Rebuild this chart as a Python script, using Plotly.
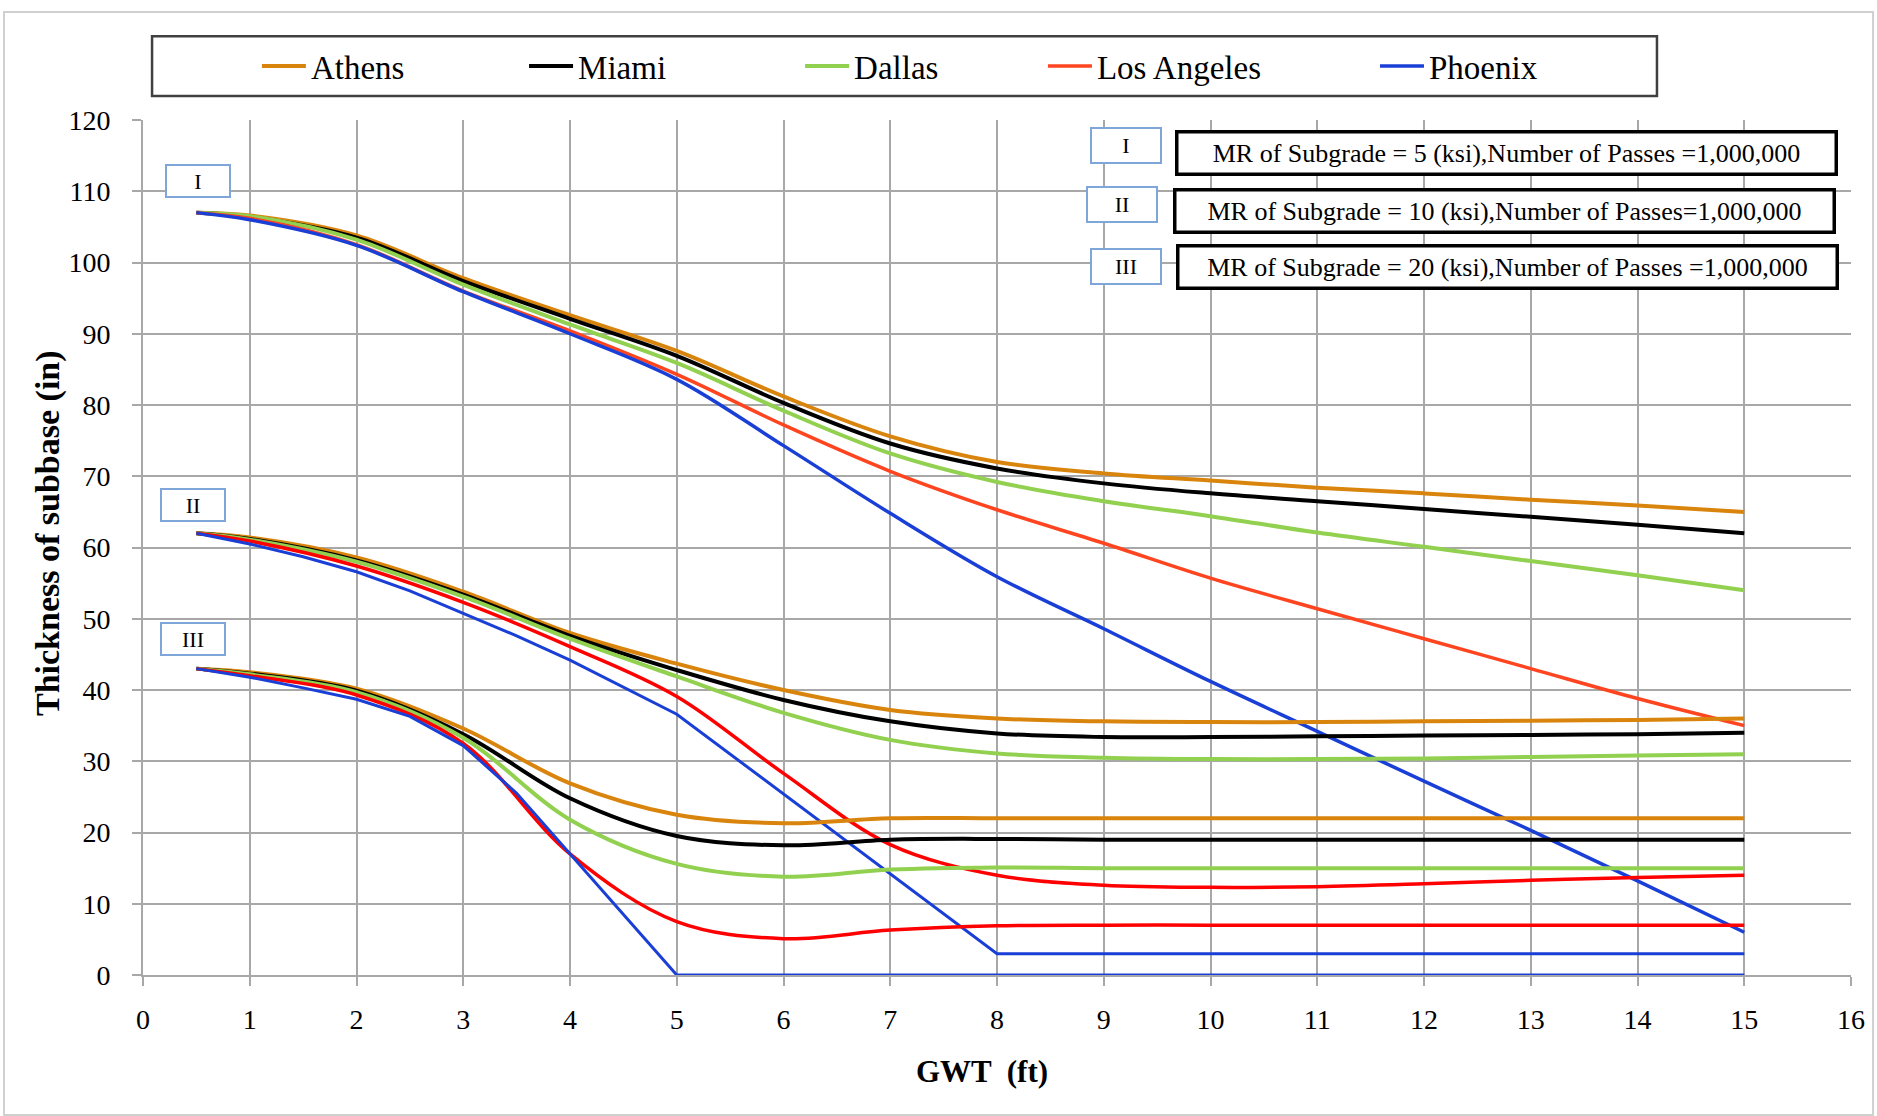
import plotly.graph_objects as go

# ---------------- data ----------------
cities = ["Athens", "Miami", "Dallas", "Los Angeles", "Phoenix"]

gwt = [0.5, 1, 2, 3, 4, 5, 6, 7, 8, 9, 10, 11, 12, 13, 14, 15]

# Group I : MR = 5 ksi
athens_I = [107, 106.6, 103.8, 97.8, 92.6, 87.6, 81.2, 75.6, 72.0, 70.4, 69.4, 68.4, 67.6, 66.7, 65.9, 65.0]
miami_I = [107, 106.4, 103.5, 97.4, 92.1, 86.9, 80.3, 74.6, 71.1, 69.0, 67.6, 66.5, 65.4, 64.3, 63.2, 62.0]
dallas_I = [107, 106.5, 103.2, 96.9, 91.3, 85.9, 79.2, 73.2, 69.2, 66.5, 64.4, 62.1, 60.1, 58.1, 56.1, 54.0]
la_I = [107, 106.2, 102.5, 96.0, 90.4, 84.3, 77.2, 70.7, 65.3, 60.6, 55.7, 51.4, 47.2, 43.0, 38.8, 35.0]
phoenix_I = [107, 106.0, 102.4, 95.9, 90.0, 83.6, 74.3, 64.8, 55.9, 48.6, 41.2, 34.2, 27.2, 20.3, 13.2, 6.0]

# Group II : MR = 10 ksi
athens_II = [62, 61.4, 58.6, 53.8, 48.0, 43.7, 40.0, 37.2, 36.0, 35.6, 35.5, 35.5, 35.6, 35.7, 35.8, 36.0]
miami_II = [62, 61.2, 58.2, 53.4, 47.6, 42.8, 38.6, 35.6, 33.9, 33.4, 33.4, 33.5, 33.6, 33.7, 33.8, 34.0]
dallas_II = [62, 61.1, 58.0, 53.1, 47.2, 41.9, 36.8, 33.0, 31.1, 30.5, 30.3, 30.3, 30.4, 30.6, 30.8, 31.0]
la_II = [62, 60.9, 57.4, 52.3, 46.1, 39.1, 28.3, 18.3, 14.0, 12.6, 12.3, 12.4, 12.8, 13.3, 13.7, 14.0]
phoenix_II_x = [0.5, 1, 1.5, 2, 2.5, 3, 3.5, 4, 5, 8, 15]
phoenix_II = [62, 60.5, 58.7, 56.6, 53.9, 50.8, 47.6, 44.2, 36.6, 3, 3]

# Group III : MR = 20 ksi
athens_III = [43, 42.5, 40.2, 34.6, 26.9, 22.5, 21.3, 22.0, 22, 22, 22, 22, 22, 22, 22, 22]
miami_III = [43, 42.3, 39.9, 33.8, 24.8, 19.5, 18.2, 19.0, 19.1, 19, 19, 19, 19, 19, 19, 19]
dallas_III = [43, 42.2, 39.7, 33.3, 21.8, 15.6, 13.8, 14.8, 15.1, 15, 15, 15, 15, 15, 15, 15]
la_III = [43, 42.0, 39.3, 32.5, 17.0, 7.5, 5.1, 6.3, 6.9, 7, 7, 7, 7, 7, 7, 7]
phoenix_III_x = [0.5, 1, 1.5, 2, 2.5, 3, 3.5, 4, 5, 15]
phoenix_III = [43, 41.8, 40.3, 38.7, 36.3, 32.2, 25.5, 17.0, 0, 0]

x_ticks = list(range(0, 17))
y_ticks = list(range(0, 121, 10))

group_labels = ["I", "II", "III"]
group_text = [
    "MR of Subgrade = 5 (ksi),Number of Passes =1,000,000",
    "MR of Subgrade = 10 (ksi),Number of Passes=1,000,000",
    "MR of Subgrade = 20 (ksi),Number of Passes =1,000,000",
]
x_title = "GWT  (ft)"
y_title = "Thickness of subbase (in)"

# ---------------- style ----------------
FONT = "Liberation Serif"
C_ATH = "#D9850D"
C_MIA = "#000000"
C_DAL = "#92D050"
C_LA1 = "#FF4420"
C_LA = "#FF0000"
C_PHX = "#1A3FD6"

fig = go.Figure()

def add(x, y, color, name, show, width=4, shape="spline", legend="legend"):
    line = dict(color=color, width=width, shape=shape)
    if shape == "spline":
        line["smoothing"] = 1.0
    fig.add_trace(go.Scatter(
        x=x, y=y, mode="lines", name=name, legendgroup=name, showlegend=show,
        legend=legend, line=line, hoverinfo="x+y+name",
    ))

# group I (legend entries, one legend box per city for exact placement)
add(gwt, athens_I, C_ATH, "Athens", True, legend="legend")
add(gwt, miami_I, C_MIA, "Miami", True, legend="legend2")
add(gwt, dallas_I, C_DAL, "Dallas", True, legend="legend3")
add(gwt, la_I, C_LA1, "Los Angeles", True, width=3.5, legend="legend4")
add(gwt, phoenix_I, C_PHX, "Phoenix", True, width=3.5, legend="legend5")
# group II
add(gwt, athens_II, C_ATH, "Athens", False)
add(gwt, miami_II, C_MIA, "Miami", False)
add(gwt, dallas_II, C_DAL, "Dallas", False)
add(gwt, la_II, C_LA, "Los Angeles", False, width=3.5)
add(phoenix_II_x, phoenix_II, C_PHX, "Phoenix", False, width=3, shape="linear")
# group III
add(gwt, athens_III, C_ATH, "Athens", False)
add(gwt, miami_III, C_MIA, "Miami", False)
add(gwt, dallas_III, C_DAL, "Dallas", False)
add(gwt, la_III, C_LA, "Los Angeles", False, width=3.5)
add(phoenix_III_x, phoenix_III, C_PHX, "Phoenix", False, width=3, shape="linear")

annotations = []
# left group labels
left_pos = [(0.515, 111.4), (0.464, 65.9), (0.464, 47.2)]
for lab, (ax, ay) in zip(group_labels, left_pos):
    annotations.append(dict(
        x=ax, y=ay, xref="x", yref="y", text=lab, showarrow=False,
        font=dict(family=FONT, size=22, color="#000000"),
        bgcolor="white", bordercolor="#7FA6D8", borderwidth=2,
        width=62, height=30, borderpad=0,
    ))
# right group labels and description boxes
right_lab_pos = [(9.21, 116.4), (9.175, 108.1), (9.21, 99.4)]
right_txt_pos = [(12.77, 115.4), (12.75, 107.2), (12.78, 99.4)]
for lab, txt, (lx, ly), (tx, ty) in zip(group_labels, group_text, right_lab_pos, right_txt_pos):
    annotations.append(dict(
        x=lx, y=ly, xref="x", yref="y", text=lab, showarrow=False,
        font=dict(family=FONT, size=22, color="#000000"),
        bgcolor="white", bordercolor="#7FA6D8", borderwidth=2,
        width=68, height=33, borderpad=0,
    ))
    annotations.append(dict(
        x=tx, y=ty, xref="x", yref="y", text=txt, showarrow=False,
        font=dict(family=FONT, size=26, color="#000000"),
        bgcolor="white", bordercolor="#000000", borderwidth=3.5,
        width=656, height=39, borderpad=0, align="center",
    ))
# axis titles
annotations.append(dict(
    x=0.4912, y=-0.1123, xref="paper", yref="paper", text="<b>" + x_title + "</b>",
    showarrow=False, xanchor="center", yanchor="middle",
    font=dict(family=FONT, size=31, color="#000000"),
))
annotations.append(dict(
    x=-0.0556, y=0.517, xref="paper", yref="paper", text="<b>" + y_title + "</b>",
    showarrow=False, xanchor="center", yanchor="middle", textangle=-90,
    font=dict(family=FONT, size=34, color="#000000"),
))

shapes = [
    # outer chart border
    dict(type="rect", xref="paper", yref="paper", x0=-0.0814, x1=1.0129, y0=-0.1637, y1=1.1263,
         line=dict(color="#D0D0D0", width=2), fillcolor="rgba(0,0,0,0)", layer="below"),
    # legend frame
    dict(type="rect", xref="paper", yref="paper", x0=0.0053, x1=0.8864, y0=1.028, y1=1.098,
         line=dict(color="#404040", width=2.5), fillcolor="white", layer="below"),
]

def legend_box(xpos):
    return dict(
        orientation="h", x=xpos, y=1.063, xanchor="left", yanchor="middle",
        bgcolor="rgba(0,0,0,0)", borderwidth=0,
        font=dict(family=FONT, size=33, color="#000000"),
        itemwidth=44,
    )

fig.update_layout(
    width=1877, height=1116,
    margin=dict(l=143, r=26, t=120, b=141),
    paper_bgcolor="white", plot_bgcolor="white",
    font=dict(family=FONT, size=28, color="#000000"),
    showlegend=True,
    legend=legend_box(0.0667),
    legend2=legend_box(0.2231),
    legend3=legend_box(0.3847),
    legend4=legend_box(0.5269),
    legend5=legend_box(0.7213),
    xaxis=dict(
        range=[0, 16], tickvals=x_ticks, ticktext=[str(v) for v in x_ticks],
        showgrid=True, gridcolor="#A8A8A8", gridwidth=1.5,
        showline=True, linecolor="#A8A8A8", linewidth=2, mirror=False,
        ticks="outside", ticklen=9, tickcolor="#A8A8A8", tickwidth=1.5,
        tickfont=dict(family=FONT, size=28), ticklabelstandoff=9,
        zeroline=False,
    ),
    yaxis=dict(
        range=[0, 120], tickvals=y_ticks, ticktext=[str(v) for v in y_ticks],
        showgrid=True, gridcolor="#A8A8A8", gridwidth=2,
        showline=True, linecolor="#A8A8A8", linewidth=2,
        ticks="outside", ticklen=9, tickcolor="#A8A8A8", tickwidth=2,
        tickfont=dict(family=FONT, size=28), ticklabelstandoff=16,
        zeroline=False,
    ),
    annotations=annotations,
    shapes=shapes,
)

fig.write_html(
    "out.html",
    config={"displayModeBar": False},
    post_script="document.body.style.margin='0px';document.body.style.overflow='hidden';",
)
